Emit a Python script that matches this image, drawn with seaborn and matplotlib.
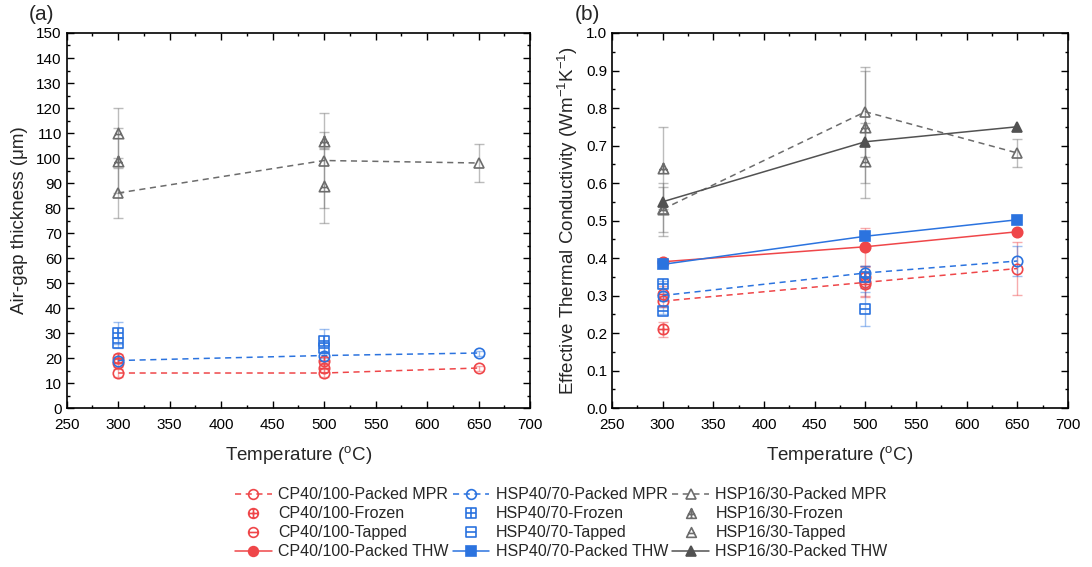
import numpy as np
import pandas as pd
import matplotlib
matplotlib.use("Agg")
import matplotlib.pyplot as plt
from matplotlib.path import Path
from matplotlib.lines import Line2D
from matplotlib.ticker import MultipleLocator
import seaborn as sns

# ---------------- data ----------------
temps3 = [300, 500, 650]
temps2 = [300, 500]

# (a) air-gap thickness (um)
gap_cp_mpr = [14, 14, 16]
gap_cp_mpr_err = [1.5, 1.5, 1.0]
gap_cp_frozen = [20, 19]
gap_cp_frozen_err = [1.5, 1.5]
gap_cp_tapped = [18, 16]
gap_cp_tapped_err = [1.5, 1.5]
gap_hsp40_mpr = [19, 21, 22]
gap_hsp40_mpr_err = [1.0, 1.0, 1.0]
gap_hsp40_frozen = [30, 27]
gap_hsp40_frozen_err = [4.5, 4.5]
gap_hsp40_tapped = [26, 24]
gap_hsp40_tapped_err = [2.0, 2.0]
gap_hsp16_mpr = [86, 99, 98]
gap_hsp16_mpr_err = [10, 19, 7.5]
gap_hsp16_frozen = [99, 107]
gap_hsp16_frozen_err = [13, 3.5]
gap_hsp16_tapped = [110, 89]
gap_hsp16_tapped_err = [10, 15]

# (b) effective thermal conductivity (W m-1 K-1)
k_cp_mpr = [0.285, 0.335, 0.372]
k_cp_mpr_err = [0.015, 0.04, 0.07]
k_cp_frozen = [0.21, 0.35]
k_cp_frozen_err = [0.02, 0.03]
k_cp_tapped = [0.305, 0.33]
k_cp_tapped_err = [0.02, 0.03]
k_cp_thw = [0.39, 0.43, 0.47]
k_cp_thw_err = [0.0, 0.05, 0.0]
k_hsp40_mpr = [0.30, 0.36, 0.392]
k_hsp40_mpr_err = [0.01, 0.02, 0.04]
k_hsp40_frozen = [0.33, 0.35]
k_hsp40_frozen_err = [0.01, 0.03]
k_hsp40_tapped = [0.26, 0.265]
k_hsp40_tapped_err = [0.01, 0.045]
k_hsp40_thw = [0.383, 0.458, 0.502]
k_hsp16_mpr = [0.53, 0.79, 0.68]
k_hsp16_mpr_err = [0.06, 0.12, 0.037]
k_hsp16_frozen = [0.64, 0.75]
k_hsp16_frozen_err = [0.11, 0.15]
k_hsp16_tapped = [0.53, 0.66]
k_hsp16_tapped_err = [0.07, 0.10]
k_hsp16_thw = [0.55, 0.71, 0.75]

labels = ["CP40/100-Packed MPR", "CP40/100-Frozen", "CP40/100-Tapped", "CP40/100-Packed THW",
          "HSP40/70-Packed MPR", "HSP40/70-Frozen", "HSP40/70-Tapped", "HSP40/70-Packed THW",
          "HSP16/30-Packed MPR", "HSP16/30-Frozen", "HSP16/30-Tapped", "HSP16/30-Packed THW"]

# ---------------- style ----------------
sns.set_style("ticks")
plt.rcParams["font.family"] = ["Liberation Sans", "DejaVu Sans"]
plt.rcParams["mathtext.default"] = "regular"

RED = "#EF4649"
BLUE = "#2B73DF"
GRAY_THW = "#525252"
GRAY = "#6C6C6C"

M = Path.MOVETO
L = Path.LINETO


def compound(base, *segs):
    parts = [base] + [Path(s, [M, L]) for s in segs]
    return Path.make_compound_path(*parts)


circ = Path.unit_circle()
sq = Path([[-1, -1], [1, -1], [1, 1], [-1, 1], [-1, -1]], [M, L, L, L, Path.CLOSEPOLY])
tri = Path([[0, 1], [-1, -1], [1, -1], [0, 1]], [M, L, L, Path.CLOSEPOLY])

circ_plus = compound(circ, [[-1, 0], [1, 0]], [[0, -1], [0, 1]])
circ_minus = compound(circ, [[-1, 0], [1, 0]])
sq_plus = compound(sq, [[-1, 0], [1, 0]], [[0, -1], [0, 1]])
sq_minus = compound(sq, [[-1, 0], [1, 0]])
tri_plus = compound(tri, [[-0.75, -0.2], [0.75, -0.2]], [[0, 1], [0, -1]])
tri_minus = compound(tri, [[-0.6, -0.2], [0.6, -0.2]])

DASH = (0, (4, 3))

styles = [
    (RED, "o", DASH, False), (RED, circ_plus, "none", False), (RED, circ_minus, "none", False), (RED, "o", "-", True),
    (BLUE, "o", DASH, False), (BLUE, sq_plus, "none", False), (BLUE, sq_minus, "none", False), (BLUE, "s", "-", True),
    (GRAY, "^", DASH, False), (GRAY, tri_plus, "none", False), (GRAY, tri_minus, "none", False), (GRAY_THW, "^", "-", True),
]


def series(ax, x, y, err, style, ms=7.5):
    color, marker, ls, filled = style
    if err is not None:
        ax.errorbar(x, y, yerr=err, fmt="none", ecolor=color, alpha=0.45,
                    elinewidth=1.0, capsize=3.5, capthick=1.0, zorder=2)
    df = pd.DataFrame({"T": x, "v": y})
    sns.lineplot(data=df, x="T", y="v", ax=ax, color=color, linestyle=ls,
                 marker=marker, markersize=ms, mfc=color if filled else "none",
                 mec=color, mew=1.2, linewidth=1.1, errorbar=None, legend=False, zorder=3)


fig = plt.figure(figsize=(10.92, 5.67), dpi=100)
ax1 = fig.add_axes([0.0611, 0.2804, 0.4243, 0.6614])
ax2 = fig.add_axes([0.5604, 0.2804, 0.4176, 0.6614])

# (a)
data_a = [
    (temps3, gap_cp_mpr, gap_cp_mpr_err), (temps2, gap_cp_frozen, gap_cp_frozen_err),
    (temps2, gap_cp_tapped, gap_cp_tapped_err), None,
    (temps3, gap_hsp40_mpr, gap_hsp40_mpr_err), (temps2, gap_hsp40_frozen, gap_hsp40_frozen_err),
    (temps2, gap_hsp40_tapped, gap_hsp40_tapped_err), None,
    (temps3, gap_hsp16_mpr, gap_hsp16_mpr_err), (temps2, gap_hsp16_frozen, gap_hsp16_frozen_err),
    (temps2, gap_hsp16_tapped, gap_hsp16_tapped_err), None,
]
for d, st in zip(data_a, styles):
    if d is not None:
        series(ax1, d[0], d[1], d[2], st)

# (b)
data_b = [
    (temps3, k_cp_mpr, k_cp_mpr_err), (temps2, k_cp_frozen, k_cp_frozen_err),
    (temps2, k_cp_tapped, k_cp_tapped_err), (temps3, k_cp_thw, k_cp_thw_err),
    (temps3, k_hsp40_mpr, k_hsp40_mpr_err), (temps2, k_hsp40_frozen, k_hsp40_frozen_err),
    (temps2, k_hsp40_tapped, k_hsp40_tapped_err), (temps3, k_hsp40_thw, None),
    (temps3, k_hsp16_mpr, k_hsp16_mpr_err), (temps2, k_hsp16_frozen, k_hsp16_frozen_err),
    (temps2, k_hsp16_tapped, k_hsp16_tapped_err), (temps3, k_hsp16_thw, None),
]
for d, st in zip(data_b, styles):
    if d is not None:
        series(ax2, d[0], d[1], d[2], st)

for ax in (ax1, ax2):
    ax.set_xlim(250, 700)
    ax.xaxis.set_major_locator(MultipleLocator(50))
    ax.xaxis.set_minor_locator(MultipleLocator(25))
    ax.tick_params(which="both", direction="in", top=True, right=True, labelsize=11, width=1.0, colors="black")
    ax.tick_params(which="major", length=5)
    ax.tick_params(which="minor", length=2.5)
    ax.tick_params(axis="x", which="major", pad=7)
    for s in ax.spines.values():
        s.set_linewidth(1.2)
        s.set_color("black")
    ax.set_xlabel("Temperature ($^{o}$C)", fontsize=13.5, labelpad=9)

ax1.set_ylim(0, 150)
ax1.yaxis.set_major_locator(MultipleLocator(10))
ax1.yaxis.set_minor_locator(MultipleLocator(5))
ax1.set_ylabel("Air-gap thickness (μm)", fontsize=13.5, labelpad=6)

ax2.set_ylim(0, 1.0)
ax2.yaxis.set_major_locator(MultipleLocator(0.1))
ax2.yaxis.set_minor_locator(MultipleLocator(0.05))
ax2.set_ylabel("Effective Thermal Conductivity (Wm$^{-1}$K$^{-1}$)", fontsize=13.5, labelpad=4)

fig.text(41 / 1092, 1 - 15 / 567, "(a)", fontsize=15, ha="center", va="center")
fig.text(587 / 1092, 1 - 15 / 567, "(b)", fontsize=15, ha="center", va="center")

handles = []
for st in styles:
    color, marker, ls, filled = st
    handles.append(Line2D([], [], color=color, linestyle=ls, linewidth=1.1, marker=marker,
                          markersize=7, mfc=color if filled else "none", mec=color, mew=1.2))
fig.legend(handles, labels, ncol=3, loc="center", bbox_to_anchor=(0.514, 0.077),
           frameon=False, fontsize=11.5, handlelength=2.3, handletextpad=0.4,
           columnspacing=0.25, labelspacing=0.25, borderpad=0)

fig.savefig("out.png", dpi=100)
